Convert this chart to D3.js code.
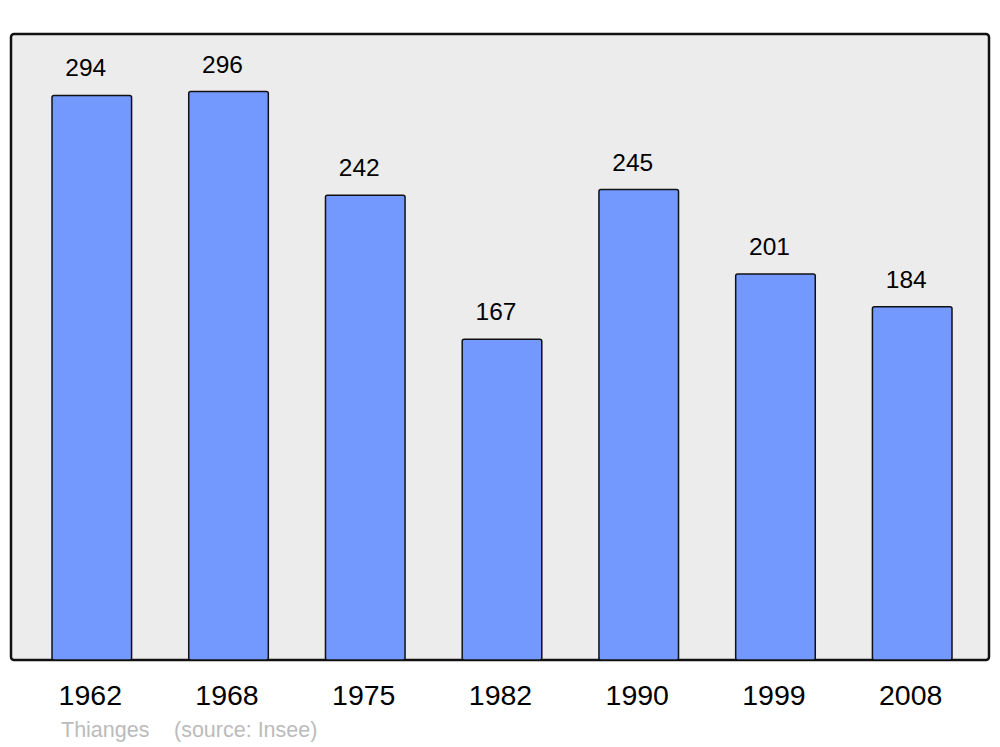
<!DOCTYPE html>
<html>
<head>
<meta charset="utf-8">
<script src="https://cdn.jsdelivr.net/npm/d3@7"></script>
<style>
  body { margin: 0; background: #fff; }
  text { font-family: "Liberation Sans", Arial, sans-serif; }
</style>
</head>
<body>
<div id="chart"></div>
<script>
const years = ["1962", "1968", "1975", "1982", "1990", "1999", "2008"];
const population = [294, 296, 242, 167, 245, 201, 184];
const town = "Thianges";
const source = "(source: Insee)";

const width = 1000, height = 747;
const panel = { left: 11, top: 34, right: 989, bottom: 660 };

const svg = d3.select("#chart").append("svg")
    .attr("width", width)
    .attr("height", height);

svg.append("rect")
    .attr("x", panel.left)
    .attr("y", panel.top)
    .attr("width", panel.right - panel.left)
    .attr("height", panel.bottom - panel.top)
    .attr("rx", 3)
    .attr("fill", "#ececec")
    .attr("stroke", "#111")
    .attr("stroke-width", 2.5);

const x = d3.scaleBand()
    .domain(years)
    .range([52, 952])
    .paddingInner(0.418)
    .paddingOuter(0);

const y = d3.scaleLinear()
    .domain([0, 326])
    .range([panel.bottom, panel.top]);

const data = years.map((yr, i) => ({ year: yr, value: population[i] }));

svg.selectAll(".bar")
    .data(data)
    .enter().append("rect")
    .attr("class", "bar")
    .attr("x", d => x(d.year))
    .attr("y", d => y(d.value))
    .attr("width", x.bandwidth())
    .attr("height", d => y(0) - y(d.value))
    .attr("rx", 2)
    .attr("fill", "#7399ff")
    .attr("stroke", "#111")
    .attr("stroke-width", 1.5);

svg.selectAll(".val")
    .data(data)
    .enter().append("text")
    .attr("class", "val")
    .attr("x", d => x(d.year) + x.bandwidth() / 2 - 6)
    .attr("y", d => y(d.value) - 19)
    .attr("text-anchor", "middle")
    .attr("font-size", 24.5)
    .attr("fill", "#000")
    .text(d => d.value);

svg.selectAll(".year")
    .data(data)
    .enter().append("text")
    .attr("class", "year")
    .attr("x", d => x(d.year) + x.bandwidth() / 2 - 1.5)
    .attr("y", 705)
    .attr("text-anchor", "middle")
    .attr("font-size", 28.5)
    .attr("fill", "#000")
    .text(d => d.year);

svg.append("text")
    .attr("x", 61)
    .attr("y", 737)
    .attr("font-size", 21.5)
    .attr("fill", "#bbb")
    .text(town);

svg.append("text")
    .attr("x", 174)
    .attr("y", 737)
    .attr("font-size", 21.5)
    .attr("fill", "#bbb")
    .text(source);
</script>
</body>
</html>
